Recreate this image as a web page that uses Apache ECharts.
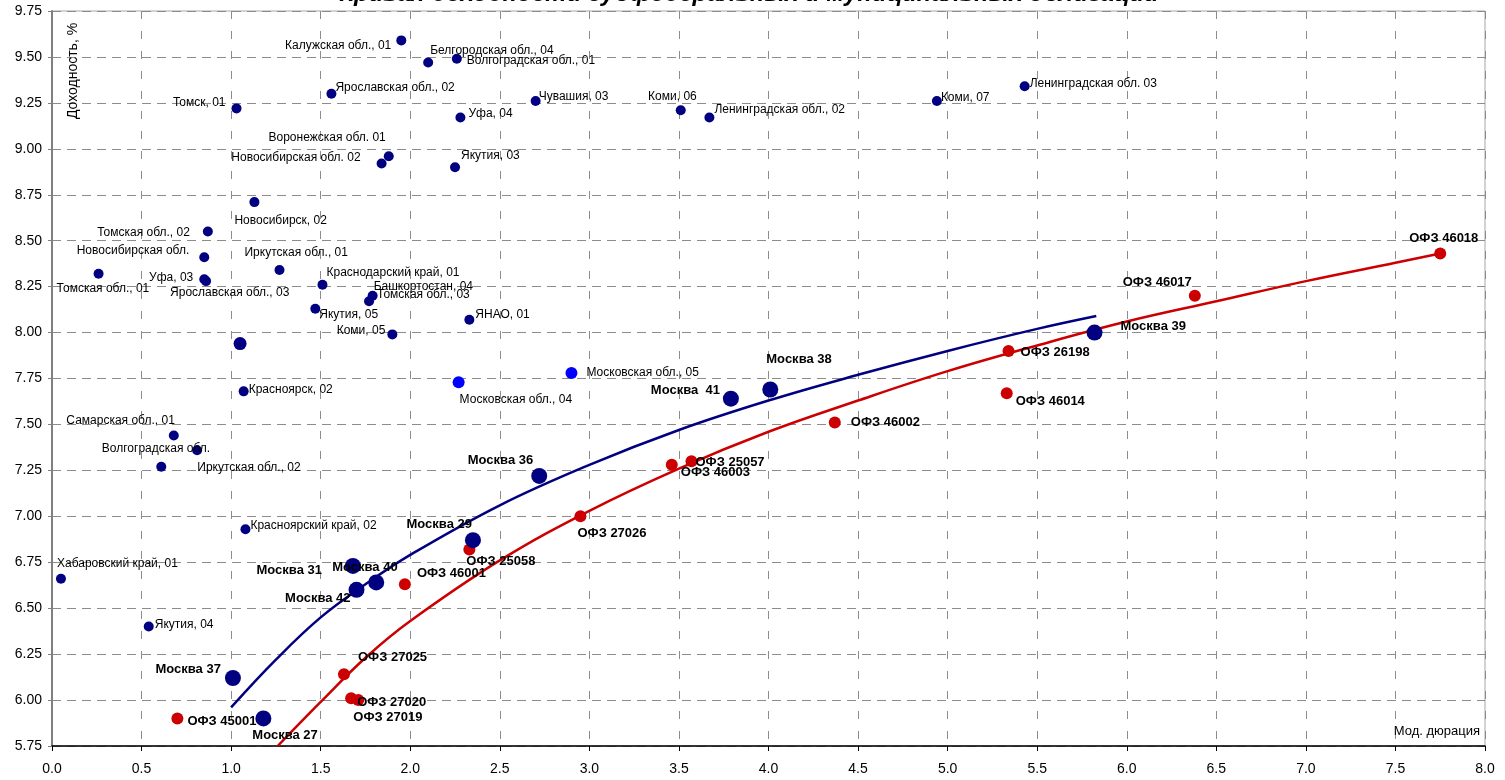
<!DOCTYPE html>
<html>
<head>
<meta charset="utf-8">
<script src="https://cdn.jsdelivr.net/npm/echarts@6/dist/echarts.min.js"></script>
<style>
html,body{margin:0;padding:0;background:#fff;}
#chart{width:1505px;height:780px;}
</style>
</head>
<body>
<div id="chart"></div>
<script>
// ---- Data ----
const regionNames = ['Калужская обл., 01','Белгородская обл., 04','Волгоградская обл., 01','Ярославская обл., 02','Томск, 01','Чувашия, 03','Уфа, 04','Коми, 06','Ленинградская обл., 02','Коми, 07','Ленинградская обл. 03','Воронежская обл. 01','Новосибирская обл. 02','Якутия, 03','Новосибирск, 02','Томская обл., 02','Новосибирская обл.','Иркутская обл., 01','Томская обл., 01','Уфа, 03','Ярославская обл., 03','Краснодарский край, 01','Башкортостан, 04','Томская обл., 03','Якутия, 05','ЯНАО, 01','Коми, 05','Красноярск, 02','Самарская обл., 01','Волгоградская обл.','Иркутская обл., 02','Красноярский край, 02','Хабаровский край, 01','Якутия, 04'];
const regionX = [1.95,2.10,2.26,1.56,1.03,2.70,2.28,3.51,3.67,4.94,5.43,1.88,1.84,2.25,1.13,0.87,0.85,1.27,0.26,0.85,0.86,1.51,1.79,1.77,1.47,2.33,1.90,1.07,0.68,0.81,0.61,1.08,0.05,0.54];
const regionY = [9.59,9.47,9.49,9.30,9.22,9.26,9.17,9.21,9.17,9.26,9.34,8.96,8.92,8.90,8.71,8.55,8.41,8.34,8.32,8.29,8.28,8.26,8.20,8.17,8.13,8.07,7.99,7.68,7.44,7.36,7.27,6.93,6.66,6.40];

const mosRegNames = ['Московская обл., 04','Московская обл., 05'];
const mosRegX = [2.27,2.90];
const mosRegY = [7.73,7.78];

const moscowNames = ['Москва 37','Москва 27','Москва 31','Москва 42','Москва 40','Москва 29','Москва 36','Москва  41','Москва 38','Москва 39'];
const moscowX = [1.01,1.18,1.68,1.70,1.81,2.35,2.72,3.79,4.01,5.82];
const moscowY = [6.12,5.90,6.73,6.60,6.64,6.87,7.22,7.64,7.69,8.00];

const otherX = [1.05];
const otherY = [7.94];

const ofzNames = ['ОФЗ 45001','ОФЗ 27025','ОФЗ 27020','ОФЗ 27019','ОФЗ 46001','ОФЗ 25058','ОФЗ 27026','ОФЗ 46003','ОФЗ 25057','ОФЗ 46002','ОФЗ 26198','ОФЗ 46014','ОФЗ 46017','ОФЗ 46018'];
const ofzX = [0.70,1.63,1.67,1.71,1.97,2.33,2.95,3.46,3.57,4.37,5.34,5.33,6.38,7.75];
const ofzY = [5.90,6.14,6.01,6.00,6.63,6.82,7.00,7.28,7.30,7.51,7.90,7.67,8.20,8.43];

// trend curves
const muniCurveX = [1.0,1.25,1.5,1.75,2.0,2.5,3.0,3.5,4.0,4.5,5.0,5.5,5.83];
const muniCurveY = [5.96,6.22,6.45,6.63,6.79,7.06,7.28,7.47,7.63,7.77,7.90,8.02,8.09];
const ofzCurveX = [1.26,1.5,1.75,2.0,2.5,3.0,3.5,4.0,4.5,5.0,5.5,6.0,6.5,7.0,7.5,7.75];
const ofzCurveY = [5.75,5.99,6.23,6.43,6.76,7.03,7.26,7.46,7.63,7.79,7.93,8.06,8.17,8.28,8.38,8.43];

const titleText = 'Кривая доходности субфедеральных и муниципальных облигаций';
const yName = 'Доходность, %';
const xName = 'Мод. дюрация';

// ---- Label placement (style, kept apart from data): [align, dx, dy] ----
const PLACE = {
 'Калужская обл., 01':['right',-10,5],
 'Белгородская обл., 04':['left',2,-12],
 'Волгоградская обл., 01':['left',10,2],
 'Ярославская обл., 02':['left',4,-6],
 'Томск, 01':['right',-11,-6],
 'Чувашия, 03':['left',3,-4],
 'Уфа, 04':['left',8,-4],
 'Коми, 06':['right',16,-14],
 'Ленинградская обл., 02':['left',5,-8],
 'Коми, 07':['left',4,-3],
 'Ленинградская обл. 03':['left',5,-3],
 'Воронежская обл. 01':['right',-3,-18],
 'Новосибирская обл. 02':['right',-21,-6],
 'Якутия, 03':['left',6,-12],
 'Новосибирск, 02':['left',-20,19],
 'Томская обл., 02':['right',-18,1],
 'Новосибирская обл.':['right',-15,-7],
 'Иркутская обл., 01':['left',-35,-17],
 'Томская обл., 01':['left',-42,15],
 'Уфа, 03':['right',-11,-2],
 'Ярославская обл., 03':['left',-36,12],
 'Краснодарский край, 01':['left',4,-12],
 'Башкортостан, 04':['left',1,-9],
 'Томская обл., 03':['left',8,-7],
 'Якутия, 05':['left',4,6],
 'ЯНАО, 01':['left',6,-5],
 'Коми, 05':['right',-7,-4],
 'Красноярск, 02':['left',5,-2],
 'Самарская обл., 01':['right',1,-15],
 'Волгоградская обл.':['right',13,-1],
 'Иркутская обл., 02':['left',36,1],
 'Красноярский край, 02':['left',5,-3],
 'Хабаровский край, 01':['left',-4,-15],
 'Якутия, 04':['left',6,-2],
 'Московская обл., 04':['left',1,18],
 'Московская обл., 05':['left',15,0],
 'Москва 37':['right',-12,-9],
 'Москва 27':['left',-11,17],
 'Москва 31':['right',-31,4],
 'Москва 42':['right',-6,9],
 'Москва 40':['left',-44,-15],
 'Москва 29':['right',-1,-16],
 'Москва 36':['right',-6,-15],
 'Москва  41':['right',-11,-8],
 'Москва 38':['left',-4,-30],
 'Москва 39':['left',26,-6],
 'ОФЗ 45001':['left',10,3],
 'ОФЗ 27025':['left',14,-17],
 'ОФЗ 27020':['left',6,4],
 'ОФЗ 27019':['left',-5,17],
 'ОФЗ 46001':['left',12,-11],
 'ОФЗ 25058':['left',-3,12],
 'ОФЗ 27026':['left',-3,17],
 'ОФЗ 46003':['left',9,8],
 'ОФЗ 25057':['left',4,1],
 'ОФЗ 46002':['left',16,0],
 'ОФЗ 26198':['left',12,1],
 'ОФЗ 46014':['left',9,8],
 'ОФЗ 46017':['right',-3,-13],
 'ОФЗ 46018':['left',-31,-15]
};

function pts(names, xs, ys) {
  return xs.map(function (x, i) {
    var n = names ? names[i] : '';
    var p = PLACE[n] || ['left', 6, 0];
    return { name: n, value: [x, ys[i]], label: { align: p[0], offset: [p[1], p[2]] } };
  });
}
function pairs(xs, ys) { return xs.map(function (x, i) { return [x, ys[i]]; }); }

const FONT = 'Liberation Sans, Arial, sans-serif';
const NAVY = '#000080', BLUE = '#0000ff', RED = '#cc0000';

const smallLabel = { show: true, position: 'inside', formatter: '{b}', verticalAlign: 'middle',
  color: '#000', fontSize: 12, fontFamily: FONT, textBorderWidth: 0, textBorderColor: 'transparent', opacity: 1 };
const boldLabel = { show: true, position: 'inside', formatter: '{b}', verticalAlign: 'middle',
  color: '#000', fontSize: 13, fontWeight: 'bold', fontFamily: FONT, textBorderWidth: 0, textBorderColor: 'transparent', opacity: 1 };

const chart = echarts.init(document.getElementById('chart'), null, { renderer: 'canvas' });
chart.setOption({
  animation: false,
  backgroundColor: '#fff',
  textStyle: { fontFamily: FONT },
  grid: { left: 52, right: 20, top: 11, bottom: 34, show: true, borderColor: '#a6a6a6', borderWidth: 1, backgroundColor: '#fff' },
  graphic: [
    { type: 'text', x: 749, y: -6, z: 100,
      style: { text: titleText, textAlign: 'center', textVerticalAlign: 'middle', fontSize: 24,
        fontWeight: 'bold', fontStyle: 'italic', fontFamily: FONT, fill: '#000' } },
    { type: 'text', x: 73, y: 71, rotation: Math.PI / 2, z: 100,
      style: { text: yName, textAlign: 'center', textVerticalAlign: 'middle', fontSize: 14, fontFamily: FONT, fill: '#000' } },
    { type: 'text', x: 1480, y: 731, z: 100,
      style: { text: xName, textAlign: 'right', textVerticalAlign: 'middle', fontSize: 13, fontFamily: FONT, fill: '#000' } }
  ],
  xAxis: {
    type: 'value', min: 0, max: 8, interval: 0.5,
    axisLine: { show: true, onZero: false, lineStyle: { color: '#000', width: 1.5 } },
    axisTick: { show: true, length: 5, lineStyle: { color: '#000' } },
    axisLabel: { formatter: function (v) { return v.toFixed(1); }, fontSize: 14, color: '#000', margin: 16, fontFamily: FONT },
    splitLine: { show: true, lineStyle: { color: '#8c8c8c', type: [8, 12], width: 1 } }
  },
  yAxis: {
    type: 'value', min: 5.75, max: 9.75, interval: 0.25,
    axisLine: { show: true, onZero: false, lineStyle: { color: '#7f7f7f', width: 2 } },
    axisTick: { show: true, length: 4, lineStyle: { color: '#7f7f7f' } },
    axisLabel: { formatter: function (v) { return v.toFixed(2); }, fontSize: 14, color: '#000', margin: 10, fontFamily: FONT },
    splitLine: { show: true, lineStyle: { color: '#8c8c8c', type: [9, 6], width: 1 } }
  },
  series: [
    { type: 'line', name: 'muniCurve', data: pairs(muniCurveX, muniCurveY), smooth: 0.4, showSymbol: false,
      lineStyle: { color: NAVY, width: 2.5 }, z: 2, silent: true },
    { type: 'line', name: 'ofzCurve', data: pairs(ofzCurveX, ofzCurveY), smooth: 0.4, showSymbol: false,
      lineStyle: { color: RED, width: 2.5 }, z: 2, silent: true },
    { type: 'scatter', name: 'regions', data: pts(regionNames, regionX, regionY), symbolSize: 10,
      itemStyle: { color: NAVY, opacity: 1 }, label: smallLabel, z: 3 },
    { type: 'scatter', name: 'other', data: pts(null, otherX, otherY), symbolSize: 13,
      itemStyle: { color: NAVY, opacity: 1 }, label: { show: false }, z: 3 },
    { type: 'scatter', name: 'mosreg', data: pts(mosRegNames, mosRegX, mosRegY), symbolSize: 12,
      itemStyle: { color: BLUE, opacity: 1 }, label: smallLabel, z: 3 },
    { type: 'scatter', name: 'ofz', data: pts(ofzNames, ofzX, ofzY), symbolSize: 12,
      itemStyle: { color: RED, opacity: 1 }, label: boldLabel, z: 4 },
    { type: 'scatter', name: 'moscow', data: pts(moscowNames, moscowX, moscowY), symbolSize: 16,
      itemStyle: { color: NAVY, opacity: 1 }, label: boldLabel, z: 4 }
  ]
});
</script>
</body>
</html>
